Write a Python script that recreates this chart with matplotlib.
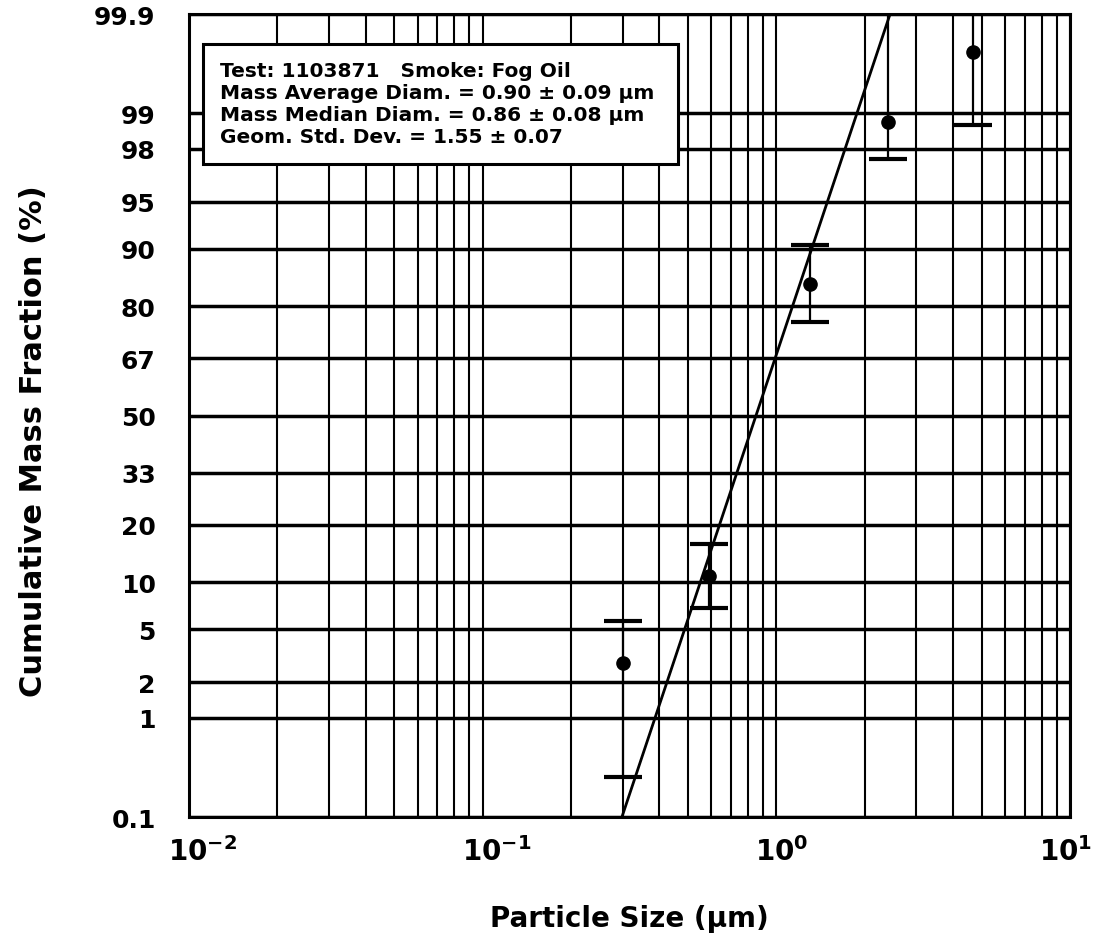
import math

import matplotlib
matplotlib.use("Agg")
import matplotlib.pyplot as plt
import numpy as np
from matplotlib.patches import Rectangle
from matplotlib.ticker import LogLocator, NullFormatter
from matplotlib.transforms import ScaledTranslation

# impactor stages: particle size (um) and cumulative mass fraction (%)
sizes = [0.30, 0.59, 1.30, 2.40, 4.67]
mass_pct = [2.85, 10.8, 84.4, 98.8, 99.74]
pct_low = [0.27, 6.9, 76.4, 97.6, 98.73]
pct_high = [5.7, 16.2, 90.5, 99.97, 99.99]

# log-normal fit line
fit_sizes = [0.298, 2.44]
fit_pct = [0.1, 99.9]

pct_ticks = [0.1, 1, 2, 5, 10, 20, 33, 50, 67, 80, 90, 95, 98, 99, 99.9]
pct_labels = ["0.1", "1", "2", "5", "10", "20", "33", "50", "67",
              "80", "90", "95", "98", "99", "99.9"]
size_ticks = [0.01, 0.1, 1, 10]
size_labels = [r"$\mathbf{10^{-2}}$", r"$\mathbf{10^{-1}}$",
               r"$\mathbf{10^{0}}$", r"$\mathbf{10^{1}}$"]

info_lines = [
    "Test: 1103871   Smoke: Fog Oil",
    "Mass Average Diam. = 0.90 \u00b1 0.09 \u00b5m",
    "Mass Median Diam. = 0.86 \u00b1 0.08 \u00b5m",
    "Geom. Std. Dev. = 1.55 \u00b1 0.07",
]

_erf = np.vectorize(math.erf, otypes=[float])


def norm_cdf(z):
    return 0.5 * (1.0 + _erf(np.asarray(z, dtype=float) / math.sqrt(2.0)))


def pct_to_z(p):
    # probability axis: percent -> standard normal quantile (bisection)
    p = np.clip(np.asarray(p, dtype=float) / 100.0, 1e-9, 1 - 1e-9)
    lo = np.full(p.shape, -7.0)
    hi = np.full(p.shape, 7.0)
    for _ in range(50):
        mid = 0.5 * (lo + hi)
        below = norm_cdf(mid) < p
        lo = np.where(below, mid, lo)
        hi = np.where(below, hi, mid)
    return 0.5 * (lo + hi)


def z_to_pct(z):
    return 100.0 * norm_cdf(z)


plt.rcParams["font.family"] = "DejaVu Sans"
plt.rcParams["font.weight"] = "bold"
plt.rcParams["mathtext.fontset"] = "dejavusans"

fig = plt.figure(figsize=(10.96, 9.45), dpi=100)
ax = fig.add_axes([189 / 1096, 1 - 818 / 945, 881 / 1096, 803 / 945])

ax.set_xscale("log")
ax.set_yscale("function", functions=(pct_to_z, z_to_pct))
ax.set_xlim(0.01, 10)
ax.set_ylim(0.1, 99.9)

ax.set_yticks(pct_ticks, pct_labels)
ax.set_xticks(size_ticks, size_labels)
ax.xaxis.set_minor_locator(LogLocator(base=10, subs=np.arange(2, 10)))
ax.xaxis.set_minor_formatter(NullFormatter())

ax.grid(axis="y", which="major", color="k", lw=2.5)
ax.grid(axis="x", which="both", color="k", lw=1.5)
ax.set_axisbelow(True)
ax.tick_params(which="both", length=0)
ax.tick_params(axis="y", pad=24, labelsize=18)
ax.tick_params(axis="x", pad=14, labelsize=20)

# decade labels start a little left of their gridline; keep the last one inside
xlabs = ax.get_xticklabels()
for lab in xlabs[:-1]:
    lab.set_ha("left")
    lab.set_transform(lab.get_transform()
                      + ScaledTranslation(-15 / 72, 0, fig.dpi_scale_trans))
xlabs[-1].set_ha("right")
xlabs[-1].set_transform(xlabs[-1].get_transform()
                        + ScaledTranslation(16 / 72, 0, fig.dpi_scale_trans))

for sp in ax.spines.values():
    sp.set_linewidth(2.2)

# data with error bars and fitted line
yerr = [np.subtract(mass_pct, pct_low), np.subtract(pct_high, mass_pct)]
ax.errorbar(sizes, mass_pct, yerr=yerr, fmt="o", color="k", ms=9.5,
            elinewidth=1.6, capsize=13.5, capthick=3, zorder=4)
ax.plot(fit_sizes, fit_pct, color="k", lw=2.0, zorder=4)

# summary box
ax.add_patch(Rectangle((0.0159, 0.8132), 0.539, 0.1494, transform=ax.transAxes,
                       facecolor="white", edgecolor="k", lw=2.2, zorder=5))
for i, line in enumerate(info_lines):
    ax.text(0.0352, 0.930 - i * 0.0274, line, transform=ax.transAxes,
            fontsize=14.5, fontweight="bold", va="center", ha="left", zorder=6)

ax.set_xlabel("Particle Size (\u00b5m)", fontsize=20, fontweight="bold")
ax.set_ylabel("Cumulative Mass Fraction (%)", fontsize=22, fontweight="bold")
ax.xaxis.set_label_coords(0.5, -0.108)
ax.yaxis.set_label_coords(-0.160, 0.469)

fig.savefig("out.png", dpi=100, facecolor="white")
